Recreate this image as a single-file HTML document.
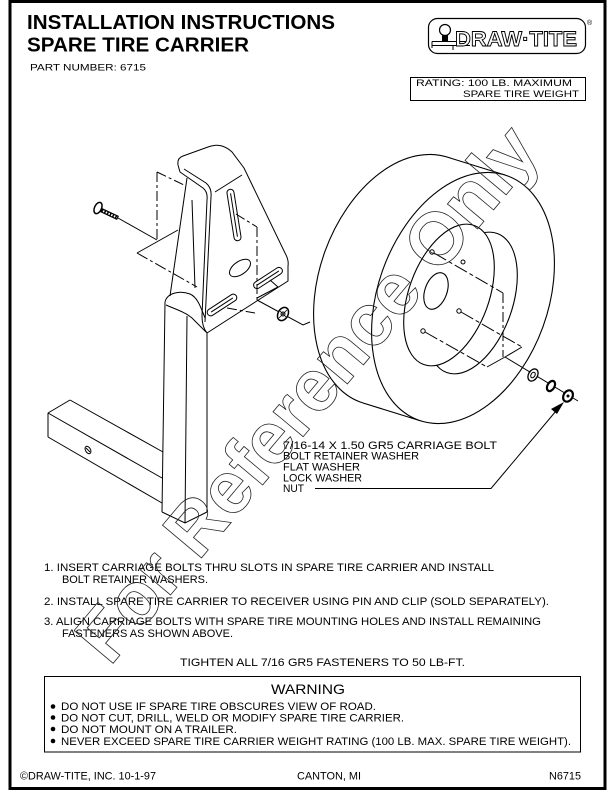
<!DOCTYPE html>
<html><head><meta charset="utf-8"><style>
html,body{margin:0;padding:0;background:#fff;}
svg{display:block;}
text{font-family:"Liberation Sans",sans-serif;fill:#000;}
.t{font-size:10.75px;}
</style></head><body>
<svg width="612" height="792" viewBox="0 0 612 792" xmlns="http://www.w3.org/2000/svg">
<rect width="612" height="792" fill="#fff"/>
<!-- border -->
<rect x="10" y="1.5" width="595" height="787" fill="none" stroke="#000" stroke-width="3"/>

<!-- header -->
<text x="27" y="29" font-size="20" font-weight="bold" textLength="308" lengthAdjust="spacingAndGlyphs">INSTALLATION INSTRUCTIONS</text>
<text x="27" y="51.5" font-size="20" font-weight="bold" textLength="222" lengthAdjust="spacingAndGlyphs">SPARE TIRE CARRIER</text>
<text x="30" y="70.5" font-size="9.5" textLength="116" lengthAdjust="spacingAndGlyphs">PART NUMBER: 6715</text>

<!-- logo -->
<g fill="none" stroke="#000">
<rect x="428.5" y="18.5" width="157" height="35" rx="9" stroke-width="1.2"/>
<circle cx="445" cy="30" r="5.5" stroke-width="1.2"/>
<rect x="442" y="35.5" width="6" height="6" fill="#000" stroke="none"/>
<line x1="432" y1="41.5" x2="470" y2="41.5" stroke-width="1"/>
<line x1="432" y1="45.5" x2="470" y2="45.5" stroke-width="1"/>
<line x1="432" y1="41.5" x2="432" y2="48" stroke-width="1"/>
<line x1="453" y1="45.5" x2="453" y2="50" stroke-width="1"/>
</g>
<text x="455" y="46" font-size="21" font-weight="bold" stroke="#000" stroke-width="0.9" textLength="122" lengthAdjust="spacingAndGlyphs" style="fill:#fff">DRAW·TITE</text>
<text x="587" y="25" font-size="7">®</text>

<!-- rating box -->
<rect x="410.5" y="77.5" width="175" height="23" fill="none" stroke="#000" stroke-width="1"/>
<text x="416" y="86" font-size="9.5" textLength="156" lengthAdjust="spacingAndGlyphs">RATING: 100 LB. MAXIMUM</text>
<text x="463" y="97" font-size="9.5" textLength="116" lengthAdjust="spacingAndGlyphs">SPARE TIRE WEIGHT</text>

<!-- TIRE -->
<g stroke="#000" stroke-width="1.1">
<ellipse cx="405" cy="280" rx="85" ry="130" transform="rotate(20 405 280)" fill="#fff"/>
<polygon points="446.9,157 504.9,175 421.1,421 363.1,403" fill="#fff" stroke="none"/>
<line x1="446.9" y1="157" x2="504.9" y2="175"/>
<line x1="363.1" y1="403" x2="421.1" y2="421"/>
<ellipse cx="463" cy="298" rx="85" ry="130" transform="rotate(20 463 298)" fill="#fff"/>
<ellipse cx="472" cy="303" rx="40" ry="74" transform="rotate(20 472 303)" fill="none"/>
<ellipse cx="449" cy="295" rx="40" ry="74" transform="rotate(20 449 295)" fill="#fff"/>
<ellipse cx="436" cy="291" rx="11" ry="19" transform="rotate(20 436 291)" fill="none"/>
</g>
<g fill="#fff" stroke="#000" stroke-width="1">
<circle cx="432" cy="252" r="2.2"/>
<circle cx="463" cy="262" r="2"/>
<circle cx="459" cy="311" r="2.2"/>
<circle cx="423" cy="331" r="2.2"/>
</g>
<g fill="none" stroke="#000" stroke-width="1">
<path d="M434,253 L503,293" stroke-dasharray="14 3 4 3"/>
<path d="M503,293 L503,357" stroke-dasharray="10 3 3 3"/>
<path d="M461,312 L522,347" stroke-dasharray="14 3 4 3"/>
<path d="M522,347 L505,357"/>
<path d="M425,332 L487,367" stroke-dasharray="14 3 4 3"/>
<path d="M487,367 L505,357"/>
<path d="M505,357 L578,401"/>
</g>
<!-- fasteners right -->
<g stroke="#000" fill="#fff">
<ellipse cx="533" cy="375" rx="4.5" ry="6.5" transform="rotate(30 533 375)" stroke-width="1.3"/>
<ellipse cx="533" cy="375" rx="2" ry="3" transform="rotate(30 533 375)" stroke-width="1"/>
<ellipse cx="551" cy="386" rx="3.5" ry="5.5" transform="rotate(30 551 386)" stroke-width="2.2"/>
<ellipse cx="568" cy="396" rx="4.5" ry="6" transform="rotate(30 568 396)" stroke-width="2.2"/>
<circle cx="568" cy="396" r="1.5" fill="#000" stroke="none"/>
</g>
<!-- leader -->
<polyline points="315,488.5 491,488.5 556,411" fill="none" stroke="#000" stroke-width="1"/>
<polygon points="564,402 551,409 557,414" fill="#000"/>

<!-- label list -->
<text class="t" x="283" y="449" textLength="214" lengthAdjust="spacingAndGlyphs">7/16-14 X 1.50 GR5 CARRIAGE BOLT</text>
<text class="t" x="283" y="459.5" textLength="136" lengthAdjust="spacingAndGlyphs">BOLT RETAINER WASHER</text>
<text class="t" x="283" y="470.5" textLength="77" lengthAdjust="spacingAndGlyphs">FLAT WASHER</text>
<text class="t" x="283" y="481.5" textLength="79" lengthAdjust="spacingAndGlyphs">LOCK WASHER</text>
<text class="t" x="283" y="492" textLength="21" lengthAdjust="spacingAndGlyphs">NUT</text>

<!-- CARRIER -->
<g fill="none" stroke="#000" stroke-width="1">
<!-- receiver bar -->
<line x1="48" y1="413" x2="162" y2="478"/>
<line x1="48" y1="437" x2="162" y2="503"/>
<line x1="70" y1="400" x2="163" y2="452"/>
<line x1="48" y1="413" x2="70" y2="400"/>
<line x1="48" y1="413" x2="48" y2="437"/>
<ellipse cx="88" cy="450" rx="2.5" ry="4" transform="rotate(-30 88 450)"/>
<line x1="86" y1="448" x2="90" y2="452"/>
<!-- tube -->
<line x1="165" y1="302" x2="162" y2="512"/>
<line x1="187" y1="316" x2="185" y2="523"/>
<line x1="207" y1="333" x2="207" y2="512"/>
<polyline points="162,512 185,523 207,512"/>
<line x1="187" y1="178" x2="170" y2="296"/>
<line x1="192" y1="200" x2="195" y2="288"/>
<path d="M165,302 C167,293 180,290 190,294 C197,297 200,305 205,318"/>
<path d="M166,305 C175,309 185,312 192,318 L206,332"/>
<!-- plate -->
<path d="M178,165 Q177,158 183,156 L208,147 Q216,144 222,146 Q228,148 232,152 L244,168 L285,253 Q289,260 288,266 L288,281 L207,333"/>
<path d="M178,165 L180,172 L203,188 Q208,192 207,200 L202,316 Q202,327 207,333"/>
<path d="M184,169 L206,183 Q212,188 211,197 L205,322"/>
<line x1="215" y1="192" x2="242" y2="175"/>
<!-- slots -->
<rect x="-26" y="-3.5" width="52" height="7" rx="3.5" transform="translate(234 215) rotate(81)"/>
<line x1="-22" y1="0" x2="22" y2="0" transform="translate(234 215) rotate(81)"/>
<ellipse cx="240" cy="268" rx="12" ry="6.5" transform="rotate(-35 240 268)"/>
<rect x="-17" y="-3.5" width="34" height="7" rx="3.5" transform="translate(222 305) rotate(-33)"/>
<line x1="-13" y1="0" x2="13" y2="0" transform="translate(222 305) rotate(-33)"/>
<rect x="-16.5" y="-3.5" width="33" height="7" rx="3.5" transform="translate(268 278) rotate(-33)"/>
<line x1="-13" y1="0" x2="13" y2="0" transform="translate(268 278) rotate(-33)"/>
<!-- phantom lines left -->
<line x1="118" y1="218" x2="157" y2="240"/>
<path d="M157,172 L157,240" stroke-dasharray="10 3 3 3"/>
<path d="M157,172 L186,186" stroke-dasharray="10 3 3 3"/>
<line x1="137" y1="253" x2="178" y2="230"/>
<path d="M137,253 L197,287" stroke-dasharray="12 3 3 3"/>
<!-- phantom lines right -->
<path d="M236,214 L257,227" stroke-dasharray="10 3 3 3"/>
<path d="M257,227 L257,300" stroke-dasharray="10 3 3 3"/>
<path d="M270,280 L278,287 L257,298"/>
<path d="M227,308 L255,313" stroke-dasharray="10 3 3 3"/>
<path d="M257,300 L303,325 L310,322"/>
</g>
<!-- bolt left -->
<g stroke="#000">
<line x1="101" y1="210" x2="118" y2="218" stroke-width="4.5"/>
<line x1="103" y1="211" x2="117" y2="217.5" stroke-width="2" stroke="#fff" stroke-dasharray="1.5 1.5"/>
<ellipse cx="98" cy="208" rx="3.5" ry="6" transform="rotate(25 98 208)" fill="#fff" stroke-width="1.5"/>
</g>
<!-- retainer washer -->
<g stroke="#000" fill="#fff">
<ellipse cx="283" cy="314" rx="5" ry="7" transform="rotate(30 283 314)" stroke-width="1.5"/>
<circle cx="283" cy="314" r="2" stroke-width="1"/>
<line x1="279" y1="310" x2="287" y2="318" stroke-width="0.8"/>
<line x1="287" y1="310" x2="279" y2="318" stroke-width="0.8"/>
</g>

<!-- instructions -->
<text class="t" x="44" y="571" textLength="450" lengthAdjust="spacingAndGlyphs">1. INSERT CARRIAGE BOLTS THRU SLOTS IN SPARE TIRE CARRIER AND INSTALL</text>
<text class="t" x="62" y="583" textLength="146" lengthAdjust="spacingAndGlyphs">BOLT RETAINER WASHERS.</text>
<text class="t" x="44" y="605" textLength="505" lengthAdjust="spacingAndGlyphs">2. INSTALL SPARE TIRE CARRIER TO RECEIVER USING PIN AND CLIP (SOLD SEPARATELY).</text>
<text class="t" x="44" y="625" textLength="497" lengthAdjust="spacingAndGlyphs">3. ALIGN CARRIAGE BOLTS WITH SPARE TIRE MOUNTING HOLES AND INSTALL REMAINING</text>
<text class="t" x="62" y="637" textLength="171" lengthAdjust="spacingAndGlyphs">FASTENERS AS SHOWN ABOVE.</text>
<text class="t" x="180" y="666" textLength="285" lengthAdjust="spacingAndGlyphs">TIGHTEN ALL 7/16 GR5 FASTENERS TO 50 LB-FT.</text>

<!-- warning -->
<rect x="44.5" y="676.5" width="536" height="75.5" fill="none" stroke="#000" stroke-width="1"/>
<text x="271" y="694" font-size="14" textLength="74" lengthAdjust="spacingAndGlyphs">WARNING</text>
<g fill="#000">
<circle cx="53" cy="706.5" r="2.3"/>
<circle cx="53" cy="717.5" r="2.3"/>
<circle cx="53" cy="729" r="2.3"/>
<circle cx="53" cy="741" r="2.3"/>
</g>
<text class="t" x="61" y="710" textLength="315" lengthAdjust="spacingAndGlyphs">DO NOT USE IF SPARE TIRE OBSCURES VIEW OF ROAD.</text>
<text class="t" x="61" y="721.5" textLength="343" lengthAdjust="spacingAndGlyphs">DO NOT CUT, DRILL, WELD OR MODIFY SPARE TIRE CARRIER.</text>
<text class="t" x="61" y="733" textLength="176" lengthAdjust="spacingAndGlyphs">DO NOT MOUNT ON A TRAILER.</text>
<text class="t" x="61" y="745" textLength="510" lengthAdjust="spacingAndGlyphs">NEVER EXCEED SPARE TIRE CARRIER WEIGHT RATING (100 LB. MAX. SPARE TIRE WEIGHT).</text>

<!-- footer -->
<text class="t" x="20" y="779.5" textLength="136" lengthAdjust="spacingAndGlyphs">©DRAW-TITE, INC. 10-1-97</text>
<text class="t" x="297" y="779.5" textLength="64" lengthAdjust="spacingAndGlyphs">CANTON, MI</text>
<text class="t" x="549" y="779.5" textLength="32" lengthAdjust="spacingAndGlyphs">N6715</text>

<!-- watermark -->
<text x="0" y="0" transform="translate(110 667) rotate(-50)" font-size="74" font-weight="bold" textLength="672" lengthAdjust="spacingAndGlyphs" style="fill:none" stroke="#222" stroke-width="0.8">For Reference Only</text>
</svg>
</body></html>
